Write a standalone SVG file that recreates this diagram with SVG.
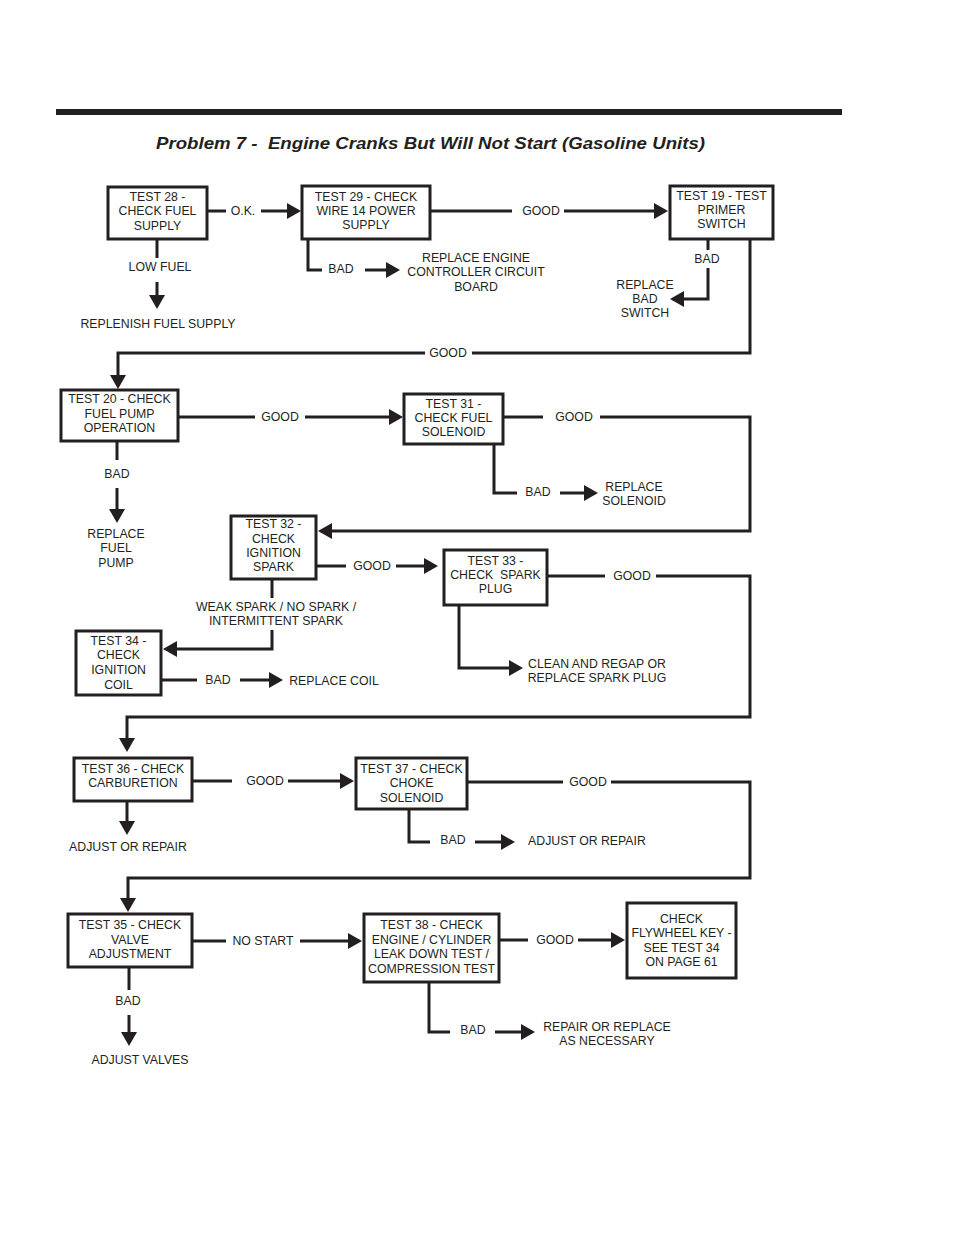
<svg xmlns="http://www.w3.org/2000/svg" width="954" height="1235" viewBox="0 0 954 1235">
<style>
.box{fill:#fff;stroke:#231f20;stroke-width:3}
.ln{fill:none;stroke:#231f20;stroke-width:3;stroke-linejoin:miter}
.ar{marker-end:url(#ah)}
text{font-family:"Liberation Sans",Arial,sans-serif;font-size:12.3px;fill:#231f20;text-anchor:middle}
.title{font-size:17px;font-weight:bold;font-style:italic}
</style>
<defs>
<marker id="ah" viewBox="0 0 14 16" refX="11" refY="8" markerWidth="14" markerHeight="16" markerUnits="userSpaceOnUse" orient="auto">
<path d="M0,0 L14,8 L0,16 Z" fill="#231f20"/>
</marker>
</defs>
<rect width="954" height="1235" fill="#fff"/>
<rect x="56" y="109" width="786" height="6" fill="#231f20"/>
<text class="title" x="430.5" y="149" textLength="549" lengthAdjust="spacingAndGlyphs" xml:space="preserve">Problem 7 -  Engine Cranks But Will Not Start (Gasoline Units)</text>

<g id="connectors">
<!-- Test 28 -->
<line class="ln" x1="208" y1="211" x2="226" y2="211"/>
<text x="243" y="215.4">O.K.</text>
<line class="ln ar" x1="261" y1="211" x2="298" y2="211"/>
<line class="ln" x1="157" y1="239" x2="157" y2="258"/>
<text x="160" y="271.4">LOW FUEL</text>
<line class="ln ar" x1="157" y1="282" x2="157" y2="306"/>
<text x="158" y="328.4">REPLENISH FUEL SUPPLY</text>
<!-- Test 29 -->
<path class="ln" d="M308,239 V270 H322"/>
<text x="341" y="273.4">BAD</text>
<line class="ln ar" x1="365" y1="270" x2="397" y2="270"/>
<text x="476" y="262.4">REPLACE ENGINE</text>
<text x="476" y="276.4">CONTROLLER CIRCUIT</text>
<text x="476" y="291.4">BOARD</text>
<line class="ln" x1="430" y1="211" x2="512" y2="211"/>
<text x="541" y="215.4">GOOD</text>
<line class="ln ar" x1="564" y1="211" x2="665" y2="211"/>
<!-- Test 19 -->
<line class="ln" x1="708" y1="239" x2="708" y2="250"/>
<text x="707" y="263.4">BAD</text>
<path class="ln ar" d="M708,268 V299 H673"/>
<text x="645" y="289.4">REPLACE</text>
<text x="645" y="303.4">BAD</text>
<text x="645" y="317.4">SWITCH</text>
<path class="ln" d="M750,239 V353 H472"/>
<text x="448" y="357.4">GOOD</text>
<path class="ln ar" d="M425,353 H118 V386"/>
<!-- Test 20 -->
<line class="ln" x1="178" y1="417" x2="255" y2="417"/>
<text x="280" y="421.4">GOOD</text>
<line class="ln ar" x1="305" y1="417" x2="400" y2="417"/>
<line class="ln" x1="117" y1="441" x2="117" y2="460"/>
<text x="117" y="478.4">BAD</text>
<line class="ln ar" x1="117" y1="488" x2="117" y2="520"/>
<text x="116" y="538.4">REPLACE</text>
<text x="116" y="552.4">FUEL</text>
<text x="116" y="567.4">PUMP</text>
<!-- Test 31 -->
<line class="ln" x1="503" y1="417" x2="543" y2="417"/>
<text x="574" y="421.4">GOOD</text>
<path class="ln ar" d="M600,417 H750 V531 H321"/>
<path class="ln" d="M494,444 V493 H517"/>
<text x="538" y="496.4">BAD</text>
<line class="ln ar" x1="560" y1="493" x2="595" y2="493"/>
<text x="634" y="491.4">REPLACE</text>
<text x="634" y="505.4">SOLENOID</text>
<!-- Test 32 -->
<line class="ln" x1="316" y1="566" x2="346" y2="566"/>
<text x="372" y="570.4">GOOD</text>
<line class="ln ar" x1="396" y1="566" x2="435" y2="566"/>
<line class="ln" x1="272" y1="579" x2="272" y2="598"/>
<text x="276" y="611.4">WEAK SPARK / NO SPARK /</text>
<text x="276" y="625.4">INTERMITTENT SPARK</text>
<path class="ln ar" d="M272,630 V649 H166"/>
<!-- Test 33 -->
<line class="ln" x1="547" y1="576" x2="605" y2="576"/>
<text x="632" y="580.4">GOOD</text>
<path class="ln ar" d="M656,576 H750 V717 H127 V749"/>
<path class="ln ar" d="M459,605 V668 H520"/>
<text x="597" y="668.4">CLEAN AND REGAP OR</text>
<text x="597" y="682.4">REPLACE SPARK PLUG</text>
<!-- Test 34 -->
<line class="ln" x1="161" y1="680" x2="197" y2="680"/>
<text x="218" y="684.4">BAD</text>
<line class="ln ar" x1="240" y1="680" x2="280" y2="680"/>
<text x="334" y="685.4">REPLACE COIL</text>
<!-- Test 36 -->
<line class="ln ar" x1="127" y1="801" x2="127" y2="832"/>
<text x="128" y="851.4">ADJUST OR REPAIR</text>
<line class="ln" x1="192" y1="781" x2="232" y2="781"/>
<text x="265" y="785.4">GOOD</text>
<line class="ln ar" x1="288" y1="781" x2="351" y2="781"/>
<!-- Test 37 -->
<line class="ln" x1="467" y1="782" x2="563" y2="782"/>
<text x="588" y="786.4">GOOD</text>
<path class="ln ar" d="M611,782 H750 V878 H128 V909"/>
<path class="ln" d="M409,809 V842 H430"/>
<text x="453" y="844.4">BAD</text>
<line class="ln ar" x1="475" y1="842" x2="512" y2="842"/>
<text x="587" y="845.4">ADJUST OR REPAIR</text>
<!-- Test 35 -->
<line class="ln" x1="192" y1="941" x2="226" y2="941"/>
<text x="263" y="945.4">NO START</text>
<line class="ln ar" x1="300" y1="941" x2="359" y2="941"/>
<line class="ln" x1="129" y1="967" x2="129" y2="990"/>
<text x="128" y="1005.4">BAD</text>
<line class="ln ar" x1="129" y1="1015" x2="129" y2="1043"/>
<text x="140" y="1064.4">ADJUST VALVES</text>
<!-- Test 38 -->
<line class="ln" x1="499" y1="940" x2="528" y2="940"/>
<text x="555" y="944.4">GOOD</text>
<line class="ln ar" x1="578" y1="940" x2="622" y2="940"/>
<path class="ln" d="M429,982 V1032 H450"/>
<text x="473" y="1034.4">BAD</text>
<line class="ln ar" x1="495" y1="1032" x2="532" y2="1032"/>
<text x="607" y="1031.4">REPAIR OR REPLACE</text>
<text x="607" y="1045.4">AS NECESSARY</text>
</g>

<g id="test28"><rect class="box" x="108" y="187" width="99" height="52"/>
<text x="157.5" y="201.4">TEST 28 -</text><text x="157.5" y="215.4">CHECK FUEL</text><text x="157.5" y="230.4">SUPPLY</text></g>
<g id="test29"><rect class="box" x="302" y="186" width="128" height="53"/>
<text x="366" y="201.4">TEST 29 - CHECK</text><text x="366" y="215.4">WIRE 14 POWER</text><text x="366" y="229.4">SUPPLY</text></g>
<g id="test19"><rect class="box" x="670" y="186" width="103" height="53"/>
<text x="721.5" y="200.4">TEST 19 - TEST</text><text x="721.5" y="214.4">PRIMER</text><text x="721.5" y="228.4">SWITCH</text></g>
<g id="test20"><rect class="box" x="61" y="390" width="117" height="51"/>
<text x="119.5" y="403.4">TEST 20 - CHECK</text><text x="119.5" y="418.4">FUEL PUMP</text><text x="119.5" y="432.4">OPERATION</text></g>
<g id="test31"><rect class="box" x="404" y="394" width="99" height="50"/>
<text x="453.5" y="408.4">TEST 31 -</text><text x="453.5" y="422.4">CHECK FUEL</text><text x="453.5" y="436.4">SOLENOID</text></g>
<g id="test32"><rect class="box" x="231" y="516" width="85" height="63"/>
<text x="273.5" y="528.4">TEST 32 -</text><text x="273.5" y="543.4">CHECK</text><text x="273.5" y="557.4">IGNITION</text><text x="273.5" y="571.4">SPARK</text></g>
<g id="test33"><rect class="box" x="444" y="550" width="103" height="55"/>
<text x="495.5" y="565.4">TEST 33 -</text><text x="495.5" y="579.4" xml:space="preserve">CHECK  SPARK</text><text x="495.5" y="593.4">PLUG</text></g>
<g id="test34"><rect class="box" x="76" y="631" width="85" height="64"/>
<text x="118.5" y="645.4">TEST 34 -</text><text x="118.5" y="659.4">CHECK</text><text x="118.5" y="674.4">IGNITION</text><text x="118.5" y="689.4">COIL</text></g>
<g id="test36"><rect class="box" x="74" y="758" width="118" height="43"/>
<text x="133" y="773.4">TEST 36 - CHECK</text><text x="133" y="787.4">CARBURETION</text></g>
<g id="test37"><rect class="box" x="356" y="758" width="111" height="51"/>
<text x="411.5" y="773.4">TEST 37 - CHECK</text><text x="411.5" y="787.4">CHOKE</text><text x="411.5" y="802.4">SOLENOID</text></g>
<g id="test35"><rect class="box" x="68" y="914" width="124" height="53"/>
<text x="130" y="929.4">TEST 35 - CHECK</text><text x="130" y="944.4">VALVE</text><text x="130" y="958.4">ADJUSTMENT</text></g>
<g id="test38"><rect class="box" x="364" y="914" width="135" height="68"/>
<text x="431.5" y="929.4">TEST 38 - CHECK</text><text x="431.5" y="944.4">ENGINE / CYLINDER</text><text x="431.5" y="958.4">LEAK DOWN TEST /</text><text x="431.5" y="973.4">COMPRESSION TEST</text></g>
<g id="flywheel"><rect class="box" x="627" y="903" width="109" height="75"/>
<text x="681.5" y="923.4">CHECK</text><text x="681.5" y="937.4">FLYWHEEL KEY -</text><text x="681.5" y="952.4">SEE TEST 34</text><text x="681.5" y="966.4">ON PAGE 61</text></g>
</svg>
